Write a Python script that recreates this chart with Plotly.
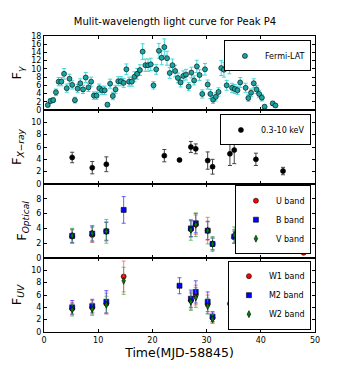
import plotly.graph_objects as go
from plotly.subplots import make_subplots

# ---- data ----
fermi_t = [0.7, 1.2, 1.7, 2.2, 2.7, 3.2, 3.7, 4.2, 4.7, 5.2, 5.7, 6.2, 6.7, 7.2, 7.7, 8.2, 8.7,
           9.2, 9.7, 10.2, 10.7, 11.2, 11.7, 12.2, 12.7, 13.2, 13.7, 14.2, 14.7, 15.2, 15.7, 16.2,
           16.7, 17.2, 17.7, 18.2, 18.7, 19.2, 19.7, 20.2, 20.7, 21.2, 21.7, 22.2, 22.7, 23.2,
           23.7, 24.2, 24.7, 25.2, 25.7, 26.2, 26.7, 27.2, 27.7, 28.2, 28.7, 29.2, 29.7, 30.2,
           30.7, 31.2, 31.7, 32.2, 32.7, 33.2, 33.7, 34.2, 34.7, 35.2, 35.7, 36.2, 36.7, 37.2,
           37.7, 38.2, 38.7, 39.2, 39.7, 40.2, 40.7, 42.2, 42.7]
fermi_f = [1.2, 2.2, 2.4, 4.3, 6.9, 6.9, 8.8, 5.3, 7.6, 6.1,
           2.4, 5.2, 6.5, 5.0, 7.9, 5.5, 6.9, 3.5, 3.5, 5.3,
           4.8, 4.8, 1.3, 6.4, 3.4, 5.0, 7.0, 7.0, 6.6, 9.9,
           6.9, 6.9, 8.1, 8.8, 9.7, 14.2, 10.9, 10.9, 11.1, 6.0,
           9.9, 14.4, 12.7, 15.3, 12.6, 9.0, 10.9, 9.5, 7.8, 6.7,
           8.3, 8.6, 5.7, 9.1, 7.2, 10.6, 8.5, 3.9, 9.9, 6.2,
           3.9, 2.5, 3.2, 4.4, 10.2, 9.8, 6.0, 11.1, 5.4, 5.1,
           4.8, 6.7, 12.2, 5.4, 2.9, 4.2, 6.5, 5.0, 3.9, 3.0,
           0.8, 1.6, 1.1]
fermi_e = [0.4, 0.6, 0.6, 0.8, 1.0, 1.0, 1.3, 1.0, 1.1, 1.0,
           0.7, 1.0, 1.1, 1.0, 1.2, 1.0, 1.1, 0.9, 0.9, 1.0,
           1.0, 1.0, 0.5, 1.1, 0.9, 1.0, 1.1, 1.1, 1.1, 1.3,
           1.1, 1.1, 1.2, 1.3, 1.3, 1.9, 1.5, 1.5, 1.5, 0.9,
           1.2, 1.8, 1.7, 2.0, 1.7, 1.3, 1.5, 1.4, 1.2, 1.1,
           1.2, 1.3, 1.0, 1.3, 1.1, 1.5, 1.3, 1.0, 1.4, 1.1,
           1.1, 0.9, 1.0, 1.0, 1.8, 1.8, 1.2, 2.3, 1.1, 1.1,
           1.0, 1.2, 2.2, 1.1, 0.8, 0.9, 1.1, 1.0, 0.9, 0.8,
           0.4, 0.5, 0.4]

xray_t = [5.2, 8.9, 11.5, 22.2, 25.0, 27.1, 28.0, 30.2, 31.1, 34.3, 35.1, 39.1, 44.1]
xray_f = [4.3, 2.65, 3.2, 4.6, 3.9, 6.0, 5.7, 3.8, 2.8, 4.9, 5.5, 4.0, 2.1]
xray_e = [0.85, 1.0, 1.2, 1.0, 0.1, 0.9, 0.8, 1.4, 1.2, 1.9, 2.2, 1.0, 0.6]

u_t = [5.2, 8.9, 11.5, 27.1, 28.0, 30.2, 31.1, 35.1, 39.1, 47.9]
u_f = [2.9, 3.1, 3.6, 3.9, 4.5, 3.7, 1.9, 2.8, 2.4, 0.7]
u_e = [0.9, 1.0, 1.3, 1.1, 1.3, 1.3, 0.8, 0.8, 0.9, 0.1]
b_t = [5.2, 8.9, 11.5, 14.7, 27.1, 28.0, 30.2, 31.1, 35.1, 39.1]
b_f = [3.0, 3.3, 3.6, 6.5, 4.0, 4.7, 3.7, 1.9, 2.9, 2.4]
b_e = [0.9, 1.0, 1.2, 1.8, 1.1, 1.3, 1.2, 0.8, 0.9, 0.9]
v_t = [5.2, 8.9, 11.5, 27.1, 28.0, 30.2, 31.1, 35.1, 39.1]
v_f = [3.0, 3.3, 3.6, 3.8, 4.5, 3.7, 1.9, 3.1, 2.6]
v_e = [1.0, 1.1, 1.6, 1.4, 1.6, 1.8, 1.0, 1.1, 1.1]

w1_t = [5.2, 8.9, 11.5, 14.7, 27.1, 28.0, 30.2, 31.1, 34.3, 35.1, 39.1]
w1_f = [3.8, 4.0, 4.6, 9.0, 5.1, 6.0, 4.5, 2.3, 4.6, 3.5, 2.7]
w1_e = [1.0, 1.1, 1.7, 2.5, 1.4, 1.6, 1.5, 0.8, 1.3, 0.9, 1.0]
m2_t = [5.2, 8.9, 11.5, 25.0, 27.1, 28.0, 30.2, 31.1, 35.1, 39.1]
m2_f = [4.0, 4.2, 4.9, 7.5, 5.4, 6.5, 4.9, 2.5, 3.7, 2.9]
m2_e = [1.1, 1.1, 1.8, 1.3, 1.4, 1.8, 1.6, 0.8, 0.9, 1.1]
w2_t = [5.2, 8.9, 11.5, 14.7, 27.1, 28.0, 30.2, 31.1, 35.1, 39.1, 44.1]
w2_f = [3.6, 3.7, 4.4, 8.3, 4.9, 5.6, 4.2, 2.1, 3.3, 2.5, 1.2]
w2_e = [1.0, 1.0, 1.4, 2.2, 1.4, 1.6, 1.3, 0.7, 0.9, 0.9, 0.3]

FONT = "DejaVu Sans"

fig = make_subplots(rows=4, cols=1, shared_xaxes=True, vertical_spacing=0)


def add_series(row, t, f, e, name, legend, fill, bar, symbol="circle", size=5):
    fig.add_trace(go.Scatter(
        x=t, y=f, mode="markers", name=name, legend=legend, showlegend=True,
        marker=dict(color=fill, symbol=symbol, size=size, line=dict(color="black", width=0.6)),
        error_y=dict(type="data", array=e, color=bar, thickness=1, width=2),
    ), row=row, col=1)


add_series(1, fermi_t, fermi_f, fermi_e, "Fermi-LAT", "legend", "#1aa3a3", "#40d8d8")
add_series(2, xray_t, xray_f, xray_e, "0.3-10 keV", "legend2", "black", "#444444")
add_series(3, u_t, u_f, u_e, "U band", "legend3", "red", "rgba(255,80,80,0.7)")
add_series(3, b_t, b_f, b_e, "B band", "legend3", "blue", "rgba(60,60,255,0.8)", "square", 5)
add_series(3, v_t, v_f, v_e, "V band", "legend3", "green", "rgba(60,170,60,0.7)", "diamond-tall", 5)
add_series(4, w1_t, w1_f, w1_e, "W1 band", "legend4", "red", "rgba(255,80,80,0.7)")
add_series(4, m2_t, m2_f, m2_e, "M2 band", "legend4", "blue", "rgba(60,60,255,0.8)", "square", 5)
add_series(4, w2_t, w2_f, w2_e, "W2 band", "legend4", "green", "rgba(60,170,60,0.7)", "diamond-tall", 5)

axis_style = dict(showline=True, linecolor="black", linewidth=1, mirror="allticks",
                  ticks="inside", ticklen=3, tickcolor="black", showgrid=False,
                  zeroline=False, automargin=False,
                  tickfont=dict(family=FONT, size=8, color="black"))

# top tick of the lower panels left off so labels don't collide
ytops = [18, 12, 10, 12]
yticks = [list(range(0, 19, 2)), list(range(0, 11, 2)), list(range(0, 9, 2)), list(range(0, 11, 2))]
ytitles = ["F<sub><i>γ</i></sub>", "F<sub><i>X−ray</i></sub>",
           "F<sub><i>Optical</i></sub>", "F<sub><i>UV</i></sub>"]
for i in range(4):
    fig.update_yaxes(range=[0, ytops[i]], tickvals=yticks[i], row=i + 1, col=1,
                     title=dict(text=ytitles[i], font=dict(family=FONT, size=13, color="black"),
                                standoff=6),
                     **axis_style)
    fig.update_xaxes(range=[0, 50], dtick=10, row=i + 1, col=1, **axis_style)

fig.update_xaxes(title=dict(text="Time(MJD-58845)", font=dict(family=FONT, size=12.5, color="black"),
                            standoff=3), row=4, col=1)

leg = dict(xanchor="right", yanchor="top", x=0.985, bgcolor="white",
           bordercolor="black", borderwidth=1, font=dict(family=FONT, size=8, color="black"),
           tracegroupgap=0, itemwidth=30)
fig.update_layout(
    width=350, height=369,
    margin=dict(l=44, r=35, t=36, b=37),
    paper_bgcolor="white", plot_bgcolor="white",
    showlegend=True,
    title=dict(text="Mulit-wavelength light curve for Peak P4", x=0.5, xanchor="center",
               y=0.932, yanchor="bottom", font=dict(family=FONT, size=10, color="black")),
    legend=dict(y=0.985, **leg),
    legend2=dict(y=0.735, **leg),
    legend3=dict(y=0.496, **leg),
    legend4=dict(y=0.241, **leg),
)

# page body has a default 8px margin; drop it so the figure sits at the window corner
fig.write_html("out.html", config={"displayModeBar": False},
               post_script="document.body.style.margin='0';")
